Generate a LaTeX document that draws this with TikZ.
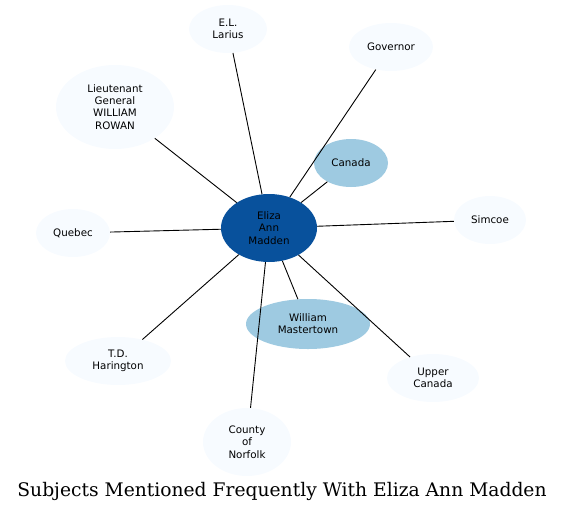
\documentclass[tikz,border=0pt]{standalone}
\usepackage{fontspec}
\setmainfont{DejaVu Serif}
\setsansfont{DejaVu Sans}
\usetikzlibrary{shapes.geometric}

\definecolor{hubblue}{HTML}{08519C}
\definecolor{midblue}{HTML}{9ECAE1}
\definecolor{paleblue}{HTML}{F7FBFF}

\begin{document}
\begin{tikzpicture}[
  x=1pt, y=-1pt,
  every node/.style = {font=\sffamily\fontsize{10.3}{12.3}\selectfont},
  subj/.style   = {ellipse, fill=paleblue, align=center, inner sep=0pt},
  near/.style   = {ellipse, fill=midblue, align=center, inner sep=0pt},
  hub/.style    = {ellipse, fill=hubblue, align=center, inner sep=0pt},
  link/.style   = {draw=black, line width=0.9pt},
]
\useasboundingbox (0,0) rectangle (564,512);

% nodes
\node[hub,  minimum width=96pt,  minimum height=68pt] (madden)  at (269,228) {Eliza\\Ann\\Madden};
\node[near, minimum width=74pt,  minimum height=48pt] (canada)  at (351,163) {Canada};
\node[near, minimum width=124pt, minimum height=50pt] (william) at (308,324) {William\\Mastertown};
\node[subj, minimum width=78pt,  minimum height=48pt] (larius)  at (228,29)  {E.L.\\Larius};
\node[subj, minimum width=84pt,  minimum height=48pt] (gov)     at (391,47)  {Governor};
\node[subj, minimum width=118pt, minimum height=84pt] (rowan)   at (115,107) {Lieutenant\\General\\WILLIAM\\ROWAN};
\node[subj, minimum width=74pt,  minimum height=48pt] (quebec)  at (73,233)  {Quebec};
\node[subj, minimum width=72pt,  minimum height=48pt] (simcoe)  at (490,220) {Simcoe};
\node[subj, minimum width=106pt, minimum height=48pt] (hari)    at (118,361) {T.D.\\Harington};
\node[subj, minimum width=88pt,  minimum height=68pt] (norfolk) at (247,442) {County\\of\\Norfolk};
\node[subj, minimum width=92pt,  minimum height=48pt] (upper)   at (433,378) {Upper\\Canada};

% links
\foreach \t in {canada, william, larius, gov, rowan, quebec, simcoe, hari, norfolk, upper}
  \draw[link] (madden) -- (\t);

\node[font=\rmfamily\fontsize{18.7}{22}\selectfont] (title) at (282,491)
  {Subjects Mentioned Frequently With Eliza Ann Madden};
\end{tikzpicture}
\end{document}
